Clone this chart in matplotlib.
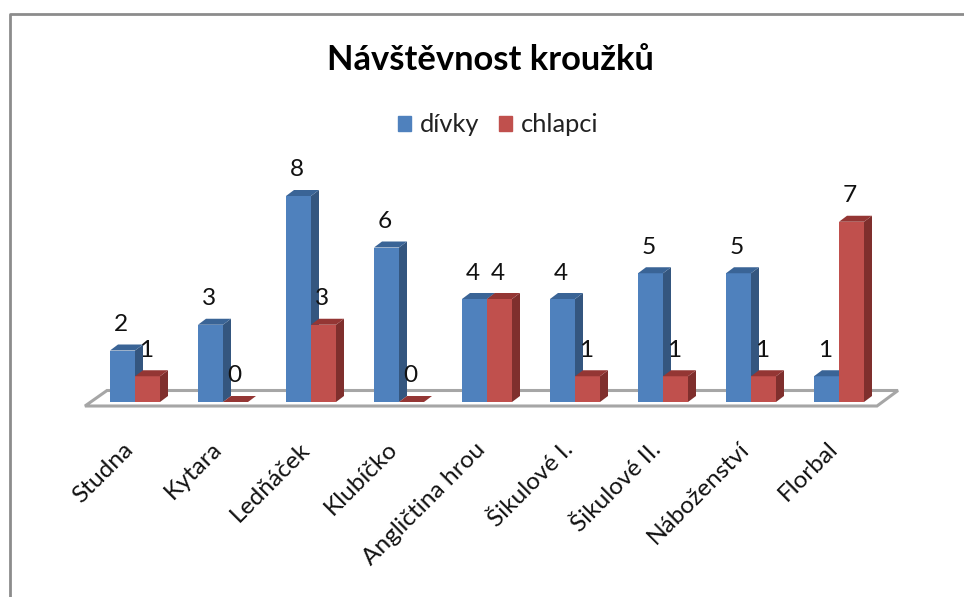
import matplotlib
matplotlib.use("Agg")
import matplotlib.pyplot as plt
from matplotlib.patches import Polygon, Patch
from matplotlib.lines import Line2D
from matplotlib.transforms import ScaledTranslation

categories = ["Studna", "Kytara", "Ledňáček", "Klubíčko", "Angličtina hrou",
              "Šikulové I.", "Šikulové II.", "Náboženství", "Florbal"]
divky = [2, 3, 8, 6, 4, 4, 5, 5, 1]
chlapci = [1, 0, 3, 0, 4, 1, 1, 1, 7]
series_names = ["dívky", "chlapci"]
title = "Návštěvnost kroužků"

W, H = 964, 597
BASE_PX, UNIT_PX, STEP_PX, X0_PX = 402, 25.75, 88, 135
plt.rcParams["font.family"] = ["Lato", "DejaVu Sans"]

fig = plt.figure(figsize=(W / 100, H / 100), dpi=100)
ax = fig.add_axes([0, (H - BASE_PX) / H, 1, BASE_PX / H])
ax.set_xlim(-X0_PX / STEP_PX, (W - X0_PX) / STEP_PX)
ax.set_ylim(0, BASE_PX / UNIT_PX)
ax.patch.set_alpha(0)
for s in ax.spines.values():
    s.set_visible(False)
ax.set_yticks([])

dx, dy = 8 / STEP_PX, 6 / UNIT_PX
width = 25 / STEP_PX
n = len(categories)

# floor (3D-looking wall base)
fl, fr = -50 / STEP_PX, (877 - X0_PX) / STEP_PX
bl, br = -28 / STEP_PX, (898 - X0_PX) / STEP_PX
ax.add_patch(Polygon([(fl, -4 / UNIT_PX), (fr, -4 / UNIT_PX), (br, 11.5 / UNIT_PX), (bl, 11.5 / UNIT_PX)],
                     closed=True, fc="white", ec="#a6a6a6", lw=2.2, clip_on=False, zorder=1))

def bars(offset, values, front, side, top, z):
    xs = [i + offset for i in range(n)]
    ax.bar(xs, values, width=width, align="edge", color=front, zorder=z, clip_on=False)
    for x, v in zip(xs, values):
        ax.add_patch(Polygon([(x + width, 0), (x + width + dx, dy), (x + width + dx, v + dy), (x + width, v)],
                             closed=True, fc=side, ec="none", zorder=z))
        ax.add_patch(Polygon([(x, v), (x + width, v), (x + width + dx, v + dy), (x + dx, v + dy)],
                             closed=True, fc=top, ec="none", zorder=z))
        ax.text(x + width / 2 - 1.5 / STEP_PX, v + 26 / UNIT_PX, str(v), ha="center", va="center",
                fontsize=17.6, color="#111111", zorder=10)

bars(-width, divky, "#4F81BD", "#34567F", "#3A6496", 2)
bars(0, chlapci, "#C0504D", "#7F2F2D", "#943634", 3)

ax.set_xticks(range(n))
ax.set_xticklabels(categories, rotation=45, ha="right", va="center", rotation_mode="anchor",
                   fontsize=17.6, color="#111111")
ax.tick_params(axis="x", length=0, pad=31.5)
shift = ScaledTranslation(-5 / 100, 0, fig.dpi_scale_trans)
for lab in ax.get_xticklabels():
    lab.set_transform(lab.get_transform() + shift)

fig.text(490 / W, 1 - 60 / H, title, ha="center", va="center", fontsize=24.8, fontweight="bold", color="black")

ax.legend(handles=[Patch(color="#4F81BD", label=series_names[0]), Patch(color="#C0504D", label=series_names[1])],
          ncol=2, frameon=False, loc="center", bbox_to_anchor=(498 / W, 1 - 125 / H), bbox_transform=fig.transFigure,
          fontsize=18.3, handlelength=0.52, handleheight=0.52, handletextpad=0.35, columnspacing=0.75,
          labelcolor="#222222")

fig.add_artist(Line2D([10 / W, 10 / W, 1], [0, 1 - 14 / H, 1 - 14 / H], color="#8c8c8c", lw=2))
fig.savefig("out.png", dpi=100)
